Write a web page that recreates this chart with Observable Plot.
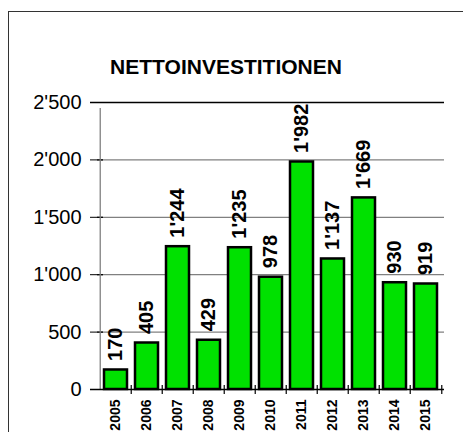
<!DOCTYPE html>
<html>
<head>
<meta charset="utf-8">
<script src="https://cdn.jsdelivr.net/npm/d3@7"></script>
<script src="https://cdn.jsdelivr.net/npm/@observablehq/plot@0.6"></script>
<style>
  html, body { margin: 0; padding: 0; background: #fff; }
  #wrap { position: relative; width: 463px; height: 432px; overflow: hidden; font-family: "Liberation Sans", Arial, sans-serif; }
  #frame { position: absolute; left: 8px; top: 11px; width: 520px; height: 520px; border: 1px solid #333; box-sizing: border-box; }
  #title { position: relative; height: 90px; box-sizing: border-box; padding-top: 57px; width: 452px; text-align: center; font-weight: bold; font-size: 21px; line-height: 20px; color: #000; }
  #chart { position: relative; }
</style>
</head>
<body>
<div id="wrap">
  <div id="frame"></div>
  <div id="title">NETTOINVESTITIONEN</div>
  <div id="chart"></div>
</div>
<script>
const years = ["2005","2006","2007","2008","2009","2010","2011","2012","2013","2014","2015"];
const values = [170, 405, 1244, 429, 1235, 978, 1982, 1137, 1669, 930, 919];
const yTicks = [0, 500, 1000, 1500, 2000, 2500];
const yTickLabels = ["0", "500", "1'000", "1'500", "2'000", "2'500"];

const data = years.map((y, i) => ({year: y, value: values[i]}));
const fmt = d3.formatLocale({decimal: ".", thousands: "'", grouping: [3], currency: ["", ""]}).format(",");

const W = 463, H = 342;
const mL = 97, mR = 19, mT = 12, mB = 43;
const plotW = W - mL - mR;
const step = plotW / years.length;
const pad = 0.27;

const chart = Plot.plot({
  width: W,
  height: H,
  marginLeft: mL,
  marginRight: mR,
  marginTop: mT,
  marginBottom: mB,
  style: {fontFamily: "'Liberation Sans', Arial, sans-serif", background: "transparent", overflow: "visible"},
  x: {type: "band", domain: years, paddingInner: pad, paddingOuter: pad / 2, axis: null},
  y: {domain: [0, 2500], axis: null},
  marks: [
    Plot.ruleY(yTicks.filter(d => d > 0 && d < 2500), {stroke: "#808080", strokeWidth: 1.3}),
    Plot.ruleY(yTicks.filter(d => d > 0 && d < 2500), {stroke: "#000", strokeWidth: 1.3, insetRight: plotW - 6}),
    Plot.ruleY([2500], {stroke: "#000", strokeWidth: 1.3, insetLeft: -7}),
    Plot.ruleX([years[0]], {dx: -step / 2, y1: 0, y2: 2500, stroke: "#808080", strokeWidth: 1.3, insetBottom: -6}),
    Plot.barY(data, {x: "year", y: "value", fill: "#00e100", stroke: "#000", strokeWidth: 2.5}),
    Plot.ruleY([0], {stroke: "#000", strokeWidth: 1.5, insetLeft: -7}),
    Plot.ruleX(years.slice(1), {x: d => d, dx: -step / 2, y1: 0, y2: 0, insetTop: -4, insetBottom: -5, stroke: "#000", strokeWidth: 1.2}),
    Plot.ruleX([years[years.length - 1]], {x: d => d, dx: step / 2, y1: 0, y2: 0, insetTop: -4, insetBottom: -5, stroke: "#000", strokeWidth: 1.2}),
    Plot.axisY(yTicks, {tickSize: 7, tickPadding: 9, tickFormat: (d) => yTickLabels[yTicks.indexOf(d)], fontSize: 20, stroke: "#000", fill: "#000", label: null}),
    Plot.text(data, {x: "year", y: "value", text: d => fmt(d.value), rotate: -90, textAnchor: "start", lineAnchor: "middle", dy: -9, fontSize: 20, fontWeight: "bold", fill: "#000"}),
    Plot.text(data, {x: "year", y: () => 0, text: "year", rotate: -90, textAnchor: "end", lineAnchor: "middle", dy: 10, fontSize: 14, fontWeight: "bold", fill: "#000"})
  ]
});
document.getElementById("chart").appendChild(chart);
</script>
</body>
</html>
